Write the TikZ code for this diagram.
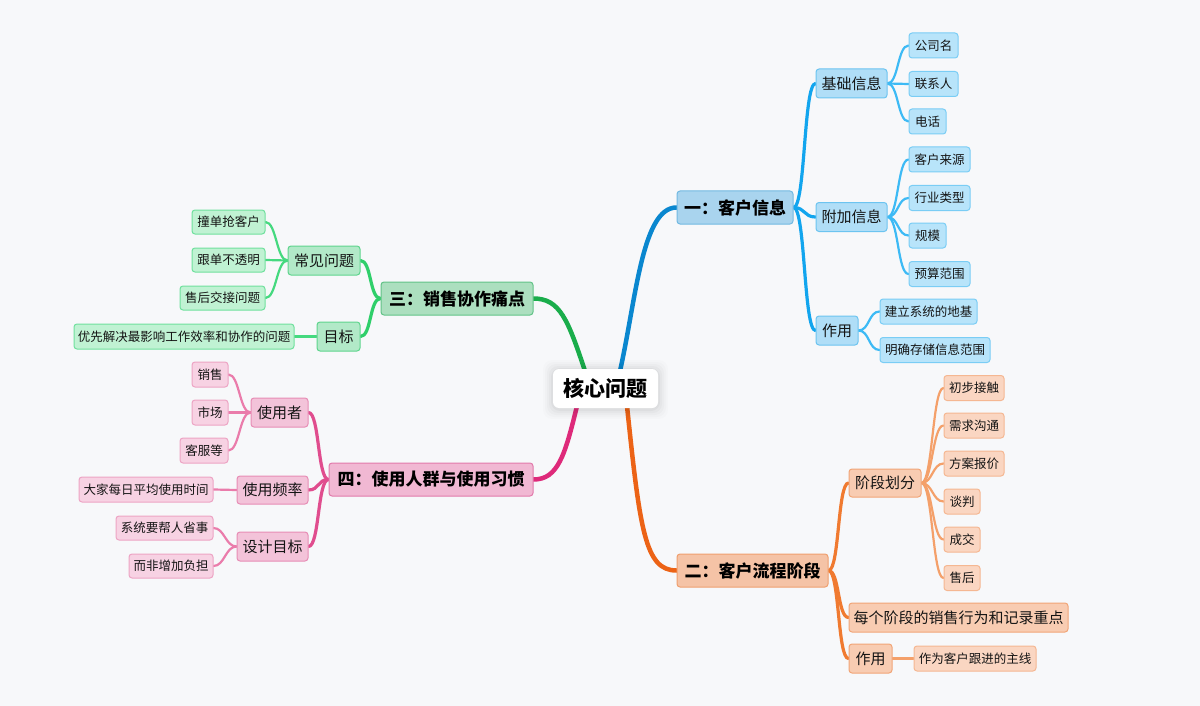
\documentclass[tikz,border=0pt]{standalone}
\usepackage{fontspec}
\setmainfont{Noto Sans CJK SC}
\usetikzlibrary{backgrounds}
\definecolor{bgc}{HTML}{F7F8FA}
\definecolor{txt}{HTML}{141414}
% blue
\definecolor{bT}{HTML}{A9D4EE}\definecolor{bTd}{HTML}{72B9E2}
\definecolor{bS}{HTML}{B0DEF7}\definecolor{bSd}{HTML}{6CC4F0}
\definecolor{bL}{HTML}{B8E4FA}\definecolor{bLd}{HTML}{7ACDF5}
\definecolor{bC0}{HTML}{0A87CF}\definecolor{bC1}{HTML}{12A5EE}\definecolor{bC2}{HTML}{3DBAF5}
% orange
\definecolor{oT}{HTML}{F5C3A6}\definecolor{oTd}{HTML}{EF9F6E}
\definecolor{oS}{HTML}{F8CCB2}\definecolor{oSd}{HTML}{F1A577}
\definecolor{oL}{HTML}{FAD6C2}\definecolor{oLd}{HTML}{F5B792}
\definecolor{oC0}{HTML}{EC6316}\definecolor{oC1}{HTML}{F07A30}\definecolor{oC2}{HTML}{F4A06A}
% green
\definecolor{gT}{HTML}{ACDFBF}\definecolor{gTd}{HTML}{62C387}
\definecolor{gS}{HTML}{B2E9C8}\definecolor{gSd}{HTML}{5FD58D}
\definecolor{gL}{HTML}{C0F2D3}\definecolor{gLd}{HTML}{6FE09D}
\definecolor{gC0}{HTML}{1AAD4B}\definecolor{gC1}{HTML}{2FCF6A}\definecolor{gC2}{HTML}{45D97F}
% pink
\definecolor{pT}{HTML}{F1B8D3}\definecolor{pTd}{HTML}{E27AAB}
\definecolor{pS}{HTML}{F3C3D9}\definecolor{pSd}{HTML}{E78DB5}
\definecolor{pL}{HTML}{F7D2E3}\definecolor{pLd}{HTML}{EDA4C4}
\definecolor{pC0}{HTML}{DE2A7A}\definecolor{pC1}{HTML}{E04D8E}\definecolor{pC2}{HTML}{EA7CAB}
\tikzset{
  box/.style={rounded corners=3pt, line width=1pt, inner sep=0pt, text=txt, align=center},
  topicbox/.style={box, font=\fontsize{17}{20}\selectfont\bfseries, text=black},
  subbox/.style={box, font=\fontsize{15}{18}\selectfont},
  leafbox/.style={box, font=\fontsize{12.5}{15}\selectfont},
  bTb/.style={topicbox, fill=bT, draw=bTd},
  bSb/.style={subbox, fill=bS, draw=bSd},
  bLb/.style={leafbox, fill=bL, draw=bLd},
  oTb/.style={topicbox, fill=oT, draw=oTd},
  oSb/.style={subbox, fill=oS, draw=oSd},
  oLb/.style={leafbox, fill=oL, draw=oLd},
  gTb/.style={topicbox, fill=gT, draw=gTd},
  gSb/.style={subbox, fill=gS, draw=gSd},
  gLb/.style={leafbox, fill=gL, draw=gLd},
  pTb/.style={topicbox, fill=pT, draw=pTd},
  pSb/.style={subbox, fill=pS, draw=pSd},
  pLb/.style={leafbox, fill=pL, draw=pLd},
  c0/.style={line width=4.5pt, line cap=round},
  c1/.style={line width=3.2pt, line cap=round},
  c2/.style={line width=2.2pt, line cap=round},
}
% name, cx, cy, w, h, style, text
\newcommand\mnode[7]{\node[#6, minimum width=#4pt, minimum height=#5pt] (#1) at (#2,#3) {#7};}
% right-going connector
\newcommand\rc[4][11]{\draw[#4] (#2.east) .. controls +(#1,0) and +(-#1,0) .. (#3.west);}
% left-going connector
\newcommand\lc[4][11]{\draw[#4] (#2.west) .. controls +(-#1,0) and +(#1,0) .. (#3.east);}
\begin{document}
\begin{tikzpicture}[x=1pt,y=-1pt]
\useasboundingbox (0,0) rectangle (1200,706);

% ---------- center ----------
\foreach \s/\o in {10/0.012,8/0.015,6/0.02,4/0.025,2/0.03}{
  \fill[black, opacity=\o, rounded corners=9pt] (553-\s,369-\s+1) rectangle (658+\s,408+\s+1);
}
\node[fill=white, rounded corners=6pt, minimum width=105pt, minimum height=39pt, inner sep=0pt,
      font=\fontsize{21}{24}\selectfont\bfseries, text=black] (core) at (605.5,388.5) {核心问题};

% ---------- topic 1 (blue) ----------
\mnode{t1}{735}{207.5}{116}{33}{bTb}{一：客户信息}
\mnode{t1a}{851.5}{83.5}{71}{29}{bSb}{基础信息}
\mnode{t1a1}{933.5}{45.5}{49}{25}{bLb}{公司名}
\mnode{t1a2}{933.5}{84}{49}{25}{bLb}{联系人}
\mnode{t1a3}{927.5}{121.5}{37}{25}{bLb}{电话}
\mnode{t1b}{851.5}{217}{71}{29}{bSb}{附加信息}
\mnode{t1b1}{939.5}{159.5}{61}{25}{bLb}{客户来源}
\mnode{t1b2}{939.5}{198}{61}{25}{bLb}{行业类型}
\mnode{t1b3}{927.5}{235.5}{37}{25}{bLb}{规模}
\mnode{t1b4}{939.5}{274}{61}{25}{bLb}{预算范围}
\mnode{t1c}{837}{330.5}{42}{29}{bSb}{作用}
\mnode{t1c1}{928.5}{311.5}{97}{25}{bLb}{建立系统的地基}
\mnode{t1c2}{935}{350}{110}{25}{bLb}{明确存储信息范围}

% ---------- topic 2 (orange) ----------
\mnode{t2}{752.5}{570.5}{151}{33}{oTb}{二：客户流程阶段}
\mnode{t2a}{885}{483}{72}{28}{oSb}{阶段划分}
\mnode{t2a1}{974}{388}{60}{25}{oLb}{初步接触}
\mnode{t2a2}{974}{425.5}{60}{25}{oLb}{需求沟通}
\mnode{t2a3}{974}{463.5}{60}{25}{oLb}{方案报价}
\mnode{t2a4}{962}{501.5}{36}{25}{oLb}{谈判}
\mnode{t2a5}{962}{539.5}{36}{25}{oLb}{成交}
\mnode{t2a6}{962}{578}{36}{25}{oLb}{售后}
\mnode{t2b}{958.5}{617.5}{219}{29}{oSb}{每个阶段的销售行为和记录重点}
\mnode{t2c}{870.5}{658.5}{43}{29}{oSb}{作用}
\mnode{t2c1}{975}{658.5}{122}{25}{oLb}{作为客户跟进的主线}

% ---------- topic 3 (green) ----------
\mnode{t3}{457}{298.5}{152}{33}{gTb}{三：销售协作痛点}
\mnode{t3a}{324}{260.5}{72}{29}{gSb}{常见问题}
\mnode{t3a1}{228.5}{222}{73}{24}{gLb}{撞单抢客户}
\mnode{t3a2}{228.5}{260}{73}{24}{gLb}{跟单不透明}
\mnode{t3a3}{222.5}{298}{85}{24}{gLb}{售后交接问题}
\mnode{t3b}{338.5}{336.5}{43}{29}{gSb}{目标}
\mnode{t3b1}{184}{336.5}{220}{25}{gLb}{优先解决最影响工作效率和协作的问题}

% ---------- topic 4 (pink) ----------
\mnode{t4}{431}{479.5}{204}{33}{pTb}{四：使用人群与使用习惯}
\mnode{t4a}{279.5}{412.5}{57}{29}{pSb}{使用者}
\mnode{t4a1}{210}{374.5}{36}{25}{pLb}{销售}
\mnode{t4a2}{210}{412.5}{36}{25}{pLb}{市场}
\mnode{t4a3}{204}{450.5}{48}{25}{pLb}{客服等}
\mnode{t4b}{272.5}{490}{71}{28}{pSb}{使用频率}
\mnode{t4b1}{146}{489.5}{134}{25}{pLb}{大家每日平均使用时间}
\mnode{t4c}{272.5}{546.5}{71}{29}{pSb}{设计目标}
\mnode{t4c1}{164.5}{528}{97}{24}{pLb}{系统要帮人省事}
\mnode{t4c2}{171}{566}{84}{24}{pLb}{而非增加负担}

% ---------- connectors ----------
\begin{scope}[on background layer]
  \fill[bgc] (0,0) rectangle (1200,706);
  % center to topics
  \draw[c0, bC0] (620,371) .. controls (636,300) and (642,207.5) .. (t1.west);
  \draw[c0, oC0] (627,406) .. controls (640,530) and (645,570.5) .. (t2.west);
  \draw[c0, gC0] (585,371) .. controls (568,320) and (560,298.5) .. (t3.east);
  \draw[c0, pC0] (577,406) .. controls (565,455) and (558,479.5) .. (t4.east);
  % blue
  \rc[12]{t1}{t1a}{c1, bC1}
  \rc[12]{t1}{t1b}{c1, bC1}
  \rc[12]{t1}{t1c}{c1, bC1}
  \rc{t1a}{t1a1}{c2, bC2}
  \rc{t1a}{t1a2}{c2, bC2}
  \rc{t1a}{t1a3}{c2, bC2}
  \rc{t1b}{t1b1}{c2, bC2}
  \rc{t1b}{t1b2}{c2, bC2}
  \rc{t1b}{t1b3}{c2, bC2}
  \rc{t1b}{t1b4}{c2, bC2}
  \rc{t1c}{t1c1}{c2, bC2}
  \rc{t1c}{t1c2}{c2, bC2}
  % orange
  \rc[11]{t2}{t2a}{c1, oC1}
  \rc[11]{t2}{t2b}{c1, oC1}
  \rc[11]{t2}{t2c}{c1, oC1}
  \rc{t2a}{t2a1}{c2, oC2}
  \rc{t2a}{t2a2}{c2, oC2}
  \rc{t2a}{t2a3}{c2, oC2}
  \rc{t2a}{t2a4}{c2, oC2}
  \rc{t2a}{t2a5}{c2, oC2}
  \rc{t2a}{t2a6}{c2, oC2}
  \draw[c2, oC2] (t2c.east) -- (t2c1.west);
  % green
  \lc[11]{t3}{t3a}{c1, gC1}
  \lc[11]{t3}{t3b}{c1, gC1}
  \lc{t3a}{t3a1}{c2, gC2}
  \lc{t3a}{t3a2}{c2, gC2}
  \lc{t3a}{t3a3}{c2, gC2}
  \draw[c2, gC2] (t3b.west) -- (t3b1.east);
  % pink
  \lc[11]{t4}{t4a}{c1, pC1}
  \lc[11]{t4}{t4b}{c1, pC1}
  \lc[11]{t4}{t4c}{c1, pC1}
  \lc{t4a}{t4a1}{c2, pC2}
  \lc{t4a}{t4a2}{c2, pC2}
  \lc{t4a}{t4a3}{c2, pC2}
  \draw[c2, pC2] (t4b.west) -- (t4b1.east);
  \lc{t4c}{t4c1}{c2, pC2}
  \lc{t4c}{t4c2}{c2, pC2}
\end{scope}
\end{tikzpicture}
\end{document}
